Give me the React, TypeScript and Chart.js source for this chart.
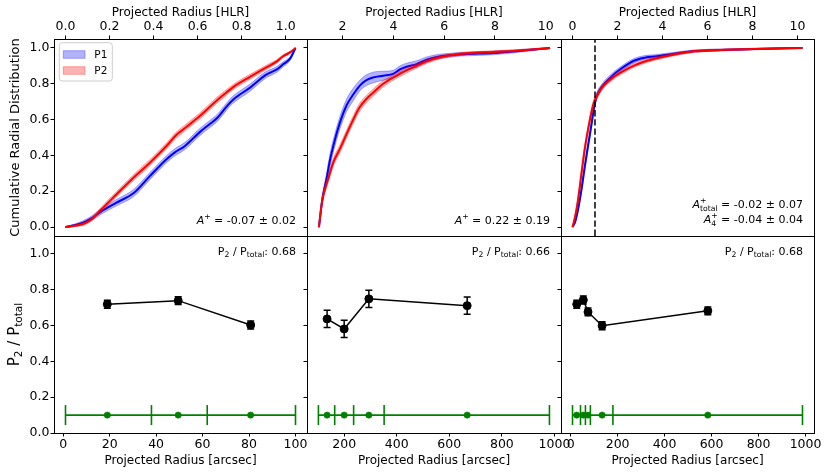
import React, { useEffect, useRef } from 'react';
import { Chart, registerables } from 'chart.js';

Chart.register(...registerables);

const FONT = "'DejaVu Sans', 'Liberation Sans', sans-serif";

// ---------------- tick labels ----------------
const fracTicks = [0, 0.2, 0.4, 0.6, 0.8, 1.0];
const hlrTicksA = [0, 0.2, 0.4, 0.6, 0.8, 1.0];
const hlrTicksB = [2, 4, 6, 8, 10];
const hlrTicksC = [0, 2, 4, 6, 8, 10];
const arcTicksA = [0, 20, 40, 60, 80, 100];
const arcTicksB = [200, 400, 600, 800, 1000];
const arcTicksC = [0, 200, 400, 600, 800, 1000];

// ---------------- top-left: cumulative distributions ----------------
const tlX = [0.0, 0.04, 0.08, 0.12, 0.16, 0.23, 0.31, 0.38, 0.46, 0.5, 0.54, 0.61, 0.65, 0.69, 0.73, 0.76, 0.84, 0.91, 0.96, 0.99, 1.02, 1.045];
const tlP1 = [0.0, 0.01, 0.025, 0.05, 0.085, 0.135, 0.19, 0.28, 0.38, 0.42, 0.45, 0.53, 0.57, 0.61, 0.67, 0.71, 0.78, 0.85, 0.88, 0.91, 0.94, 1.0];
const tlP1Err = [0.003, 0.006, 0.01, 0.013, 0.015, 0.018, 0.02, 0.02, 0.02, 0.02, 0.02, 0.02, 0.02, 0.02, 0.02, 0.02, 0.02, 0.018, 0.016, 0.014, 0.01, 0.003];
const tlP2 = [0.0, 0.007, 0.017, 0.045, 0.095, 0.18, 0.277, 0.355, 0.454, 0.51, 0.55, 0.62, 0.665, 0.71, 0.75, 0.78, 0.84, 0.89, 0.925, 0.955, 0.975, 1.0];
const tlP2Err = [0.003, 0.005, 0.008, 0.01, 0.013, 0.015, 0.017, 0.017, 0.017, 0.017, 0.017, 0.017, 0.017, 0.017, 0.016, 0.015, 0.014, 0.012, 0.01, 0.008, 0.006, 0.003];

// ---------------- top-middle ----------------
const tmX = [1.07, 1.2, 1.37, 1.5, 1.63, 1.89, 2.16, 2.42, 2.68, 2.94, 3.2, 3.6, 3.99, 4.26, 4.52, 4.91, 5.31, 5.83, 6.4, 6.88, 7.93, 8.85, 10.17];
const tmP1 = [0.0, 0.15, 0.27, 0.37, 0.45, 0.58, 0.68, 0.74, 0.79, 0.82, 0.835, 0.845, 0.855, 0.88, 0.895, 0.91, 0.935, 0.953, 0.962, 0.966, 0.972, 0.982, 1.0];
const tmP1Err = [0.005, 0.02, 0.03, 0.035, 0.035, 0.035, 0.035, 0.035, 0.03, 0.03, 0.03, 0.025, 0.02, 0.02, 0.02, 0.018, 0.015, 0.012, 0.01, 0.01, 0.01, 0.008, 0.003];
const tmP2 = [0.0, 0.15, 0.24, 0.3, 0.36, 0.435, 0.52, 0.6, 0.67, 0.715, 0.75, 0.8, 0.835, 0.855, 0.875, 0.9, 0.925, 0.948, 0.962, 0.97, 0.978, 0.985, 1.0];
const tmP2Err = [0.005, 0.02, 0.02, 0.022, 0.022, 0.022, 0.022, 0.022, 0.022, 0.02, 0.02, 0.018, 0.016, 0.015, 0.015, 0.013, 0.012, 0.01, 0.008, 0.007, 0.006, 0.005, 0.003];

// ---------------- top-right ----------------
const trX = [0.0, 0.12, 0.25, 0.4, 0.55, 0.7, 0.84, 0.95, 1.06, 1.29, 1.73, 2.17, 2.76, 3.36, 3.65, 4.53, 5.42, 6.6, 8.08, 10.22];
const trP1 = [0.0, 0.03, 0.1, 0.21, 0.34, 0.46, 0.57, 0.66, 0.725, 0.78, 0.84, 0.885, 0.93, 0.95, 0.952, 0.968, 0.983, 0.989, 0.994, 1.0];
const trP1Err = [0.003, 0.01, 0.015, 0.02, 0.02, 0.02, 0.02, 0.02, 0.018, 0.016, 0.015, 0.013, 0.012, 0.01, 0.01, 0.008, 0.006, 0.005, 0.004, 0.002];
const trP2 = [0.0, 0.06, 0.155, 0.3, 0.44, 0.55, 0.64, 0.695, 0.725, 0.775, 0.828, 0.865, 0.903, 0.93, 0.94, 0.964, 0.981, 0.989, 0.994, 1.0];
const trP2Err = [0.003, 0.012, 0.02, 0.025, 0.025, 0.022, 0.02, 0.018, 0.016, 0.015, 0.013, 0.012, 0.01, 0.01, 0.009, 0.008, 0.006, 0.005, 0.004, 0.002];
const hlrBoundary = 1.0;

// ---------------- bottom: P2 / Ptotal ----------------
const binLevel = 0.1;
const blX = [19, 49.5, 80.7];
const blY = [0.719, 0.739, 0.603];
const blErr = [0.022, 0.022, 0.022];
const blEdges = [1, 38, 62, 100];

const bmX = [135, 200, 294, 668];
const bmY = [0.637, 0.581, 0.749, 0.711];
const bmErr = [0.048, 0.048, 0.048, 0.048];
const bmEdges = [102, 164, 236, 352, 981];

const brX = [26, 54, 74, 134, 584];
const brY = [0.719, 0.743, 0.676, 0.599, 0.682];
const brErr = [0.022, 0.022, 0.022, 0.022, 0.022];
const brEdges = [8, 42, 63, 84, 180, 987];

// ---------------- layout ----------------
const CW = 831;
const CH = 476;
const COLS: [number, number][] = [[54, 307], [307, 561], [561, 814]];
const ROWS: [number, number][] = [[39, 236], [236, 433]];
const BLACK = '#000000';
const BLUE_BAND = 'rgba(0,0,255,0.3)';
const RED_BAND = 'rgba(255,0,0,0.3)';
const GREEN = '#008000';

type Seg = { t: string; it?: boolean; pos?: 'sup' | 'sub'; under?: string };

function fontStr(size: number, it?: boolean) {
  return `${it ? 'italic ' : ''}${size}px ${FONT}`;
}

function drawRich(ctx: CanvasRenderingContext2D, segs: Seg[], x: number, y: number, size: number, align: 'left' | 'right' | 'center') {
  const small = size * 0.7;
  const widths = segs.map((sg) => {
    if (sg.pos) {
      ctx.font = fontStr(small, sg.it);
      let w = ctx.measureText(sg.t).width;
      if (sg.under) {
        ctx.font = fontStr(small);
        w = Math.max(w, ctx.measureText(sg.under).width);
      }
      return w;
    }
    ctx.font = fontStr(size, sg.it);
    return ctx.measureText(sg.t).width;
  });
  const total = widths.reduce((a, b) => a + b, 0);
  let cx = align === 'right' ? x - total : align === 'center' ? x - total / 2 : x;
  ctx.textAlign = 'left';
  ctx.textBaseline = 'alphabetic';
  ctx.fillStyle = BLACK;
  segs.forEach((sg, i) => {
    if (sg.pos) {
      ctx.font = fontStr(small, sg.it);
      const dy = sg.pos === 'sup' ? -size * 0.42 : size * 0.22;
      ctx.fillText(sg.t, cx, y + dy);
      if (sg.under) {
        ctx.font = fontStr(small);
        ctx.fillText(sg.under, cx, y + size * 0.3);
      }
    } else {
      ctx.font = fontStr(size, sg.it);
      ctx.fillText(sg.t, cx, y);
    }
    cx += widths[i];
  });
}

type TextSpec = { segs: Seg[]; fromRight: number; fromTop?: number; fromBottom?: number; size: number };
type PanelDecor = {
  texts: TextSpec[];
  err?: { x: number[]; y: number[]; e: number[] };
  legend?: boolean;
  ratioLabel?: boolean;
};

function decorPlugin(d: PanelDecor) {
  return {
    id: 'panelDecor',
    afterDraw(chart: any) {
      const ctx: CanvasRenderingContext2D = chart.ctx;
      const a = chart.chartArea;
      const xs = chart.scales.x;
      const ys = chart.scales.y;
      ctx.save();
      if (d.err) {
        ctx.strokeStyle = BLACK;
        ctx.lineWidth = 1.5;
        d.err.x.forEach((xv, i) => {
          const px = xs.getPixelForValue(xv);
          const y1 = ys.getPixelForValue(d.err!.y[i] - d.err!.e[i]);
          const y2 = ys.getPixelForValue(d.err!.y[i] + d.err!.e[i]);
          ctx.beginPath();
          ctx.moveTo(px, y1);
          ctx.lineTo(px, y2);
          ctx.moveTo(px - 3.5, y1);
          ctx.lineTo(px + 3.5, y1);
          ctx.moveTo(px - 3.5, y2);
          ctx.lineTo(px + 3.5, y2);
          ctx.stroke();
        });
      }
      // frame
      ctx.strokeStyle = BLACK;
      ctx.lineWidth = 1;
      ctx.strokeRect(Math.round(a.left) + 0.5, Math.round(a.top) + 0.5, Math.round(a.right - a.left), Math.round(a.bottom - a.top));
      // annotations
      d.texts.forEach((t) => {
        const y = t.fromTop !== undefined ? a.top + t.fromTop : a.bottom - (t.fromBottom || 0);
        drawRich(ctx, t.segs, a.right - t.fromRight, y, t.size, 'right');
      });
      if (d.legend) {
        const lx = a.left + 5.3;
        const ly = a.top + 3.7;
        const w = 53;
        const h = 38.3;
        const r = 3;
        ctx.beginPath();
        ctx.moveTo(lx + r, ly);
        ctx.arcTo(lx + w, ly, lx + w, ly + h, r);
        ctx.arcTo(lx + w, ly + h, lx, ly + h, r);
        ctx.arcTo(lx, ly + h, lx, ly, r);
        ctx.arcTo(lx, ly, lx + w, ly, r);
        ctx.closePath();
        ctx.fillStyle = 'rgba(255,255,255,0.8)';
        ctx.fill();
        ctx.strokeStyle = '#cccccc';
        ctx.lineWidth = 1;
        ctx.stroke();
        const items = [
          { label: 'P1', color: BLUE_BAND },
          { label: 'P2', color: RED_BAND },
        ];
        items.forEach((it, i) => {
          const py = a.top + 11.7 + i * 16;
          ctx.fillStyle = it.color;
          ctx.fillRect(a.left + 9.3, py, 21.7, 7.6);
          ctx.strokeStyle = it.color;
          ctx.lineWidth = 1;
          ctx.strokeRect(a.left + 9.3, py, 21.7, 7.6);
          ctx.fillStyle = BLACK;
          ctx.font = fontStr(10.5);
          ctx.textAlign = 'left';
          ctx.textBaseline = 'alphabetic';
          ctx.fillText(it.label, a.left + 40.3, py + 7.6);
        });
      }
      if (d.ratioLabel) {
        ctx.translate(18.5, (ROWS[1][0] + ROWS[1][1]) / 2);
        ctx.rotate(-Math.PI / 2);
        drawRich(ctx, [{ t: 'P' }, { t: '2', pos: 'sub' }, { t: ' / P' }, { t: 'total', pos: 'sub' }], 0, 0, 15, 'center');
      }
      ctx.restore();
    },
  };
}

const tickFont = { family: FONT, size: 12.5 };
const titleFont = { family: FONT, size: 12 };
const yTitleFont = { family: FONT, size: 13 };
const gridOpts = { display: true, drawOnChartArea: false, drawTicks: true, tickLength: 3.5, color: BLACK, lineWidth: 1 };
const borderOpts = { display: true, color: BLACK, width: 1 };

function setTicks(values: number[]) {
  return (scale: any) => {
    scale.ticks = values.map((v) => ({ value: v }));
  };
}

type PanelSpec = {
  row: number;
  col: number;
  xMin: number;
  xMax: number;
  xTicks: number[];
  xFmt: (v: number) => string;
  yMin: number;
  yMax: number;
  datasets: any[];
  decor: PanelDecor;
};

function makeConfig(p: PanelSpec): any {
  const isTop = p.row === 0;
  const [l, r] = COLS[p.col];
  const [t, b] = ROWS[p.row];
  const yWidth = p.col === 0 ? l : 10;
  return {
    type: 'line',
    data: { datasets: p.datasets },
    options: {
      responsive: false,
      animation: false,
      devicePixelRatio: 1,
      events: [],
      layout: {
        autoPadding: false,
        padding: {
          left: l - yWidth,
          right: CW - r,
          top: isTop ? 0 : t,
          bottom: isTop ? CH - b : 0,
        },
      },
      plugins: { legend: { display: false }, tooltip: { enabled: false } },
      scales: {
        x: {
          type: 'linear',
          position: isTop ? 'top' : 'bottom',
          min: p.xMin,
          max: p.xMax,
          afterBuildTicks: setTicks(p.xTicks),
          afterFit: (s: any) => {
            s.height = isTop ? t : CH - b;
          },
          ticks: {
            callback: (v: number) => p.xFmt(v),
            font: tickFont,
            color: BLACK,
            padding: isTop ? 1.3 : 1.0,
            maxRotation: 0,
            minRotation: 0,
            autoSkip: false,
          },
          grid: gridOpts,
          border: borderOpts,
          title: {
            display: true,
            text: isTop ? 'Projected Radius [HLR]' : 'Projected Radius [arcsec]',
            font: titleFont,
            color: BLACK,
            padding: isTop ? { top: 5.5, bottom: 0 } : { top: 0, bottom: 8.1 },
          },
        },
        y: {
          type: 'linear',
          position: 'left',
          min: p.yMin,
          max: p.yMax,
          afterBuildTicks: setTicks(fracTicks),
          afterFit: (s: any) => {
            s.width = yWidth;
          },
          ticks: {
            display: p.col === 0,
            callback: (v: number) => v.toFixed(1),
            font: tickFont,
            color: BLACK,
            padding: 1,
          },
          grid: gridOpts,
          border: borderOpts,
          title: {
            display: p.col === 0 && isTop,
            text: 'Cumulative Radial Distribution',
            font: yTitleFont,
            color: BLACK,
            padding: { top: 7.8, bottom: 0 },
          },
        },
      },
    },
    plugins: [decorPlugin(p.decor)],
  };
}

function pts(xs: number[], ys: number[], sign = 0, es?: number[]) {
  return xs.map((x, i) => ({ x, y: ys[i] + (es ? sign * es[i] : 0) }));
}

function cdfDatasets(xs: number[], p1: number[], p1e: number[], p2: number[], p2e: number[]) {
  const common = { pointRadius: 0, cubicInterpolationMode: 'monotone' };
  return [
    { ...common, label: 'P1 upper', data: pts(xs, p1, 1, p1e), borderColor: BLUE_BAND, borderWidth: 1, fill: false, order: 5 },
    { ...common, label: 'P1', data: pts(xs, p1, -1, p1e), borderColor: BLUE_BAND, borderWidth: 1, backgroundColor: BLUE_BAND, fill: '-1', order: 4 },
    { ...common, label: 'P1 median', data: pts(xs, p1), borderColor: '#0000ff', borderWidth: 2, fill: false, order: 3 },
    { ...common, label: 'P2 upper', data: pts(xs, p2, 1, p2e), borderColor: RED_BAND, borderWidth: 1, fill: false, order: 2 },
    { ...common, label: 'P2', data: pts(xs, p2, -1, p2e), borderColor: RED_BAND, borderWidth: 1, backgroundColor: RED_BAND, fill: '-1', order: 1 },
    { ...common, label: 'P2 median', data: pts(xs, p2), borderColor: '#ff0000', borderWidth: 2, fill: false, order: 0 },
  ];
}

function ratioDatasets(xs: number[], ys: number[], edges: number[]) {
  return [
    {
      label: 'P2 / Ptotal',
      data: pts(xs, ys),
      borderColor: BLACK,
      borderWidth: 1.5,
      pointRadius: 4,
      pointBorderWidth: 1,
      pointBackgroundColor: BLACK,
      pointBorderColor: BLACK,
      fill: false,
      order: 0,
    },
    {
      label: 'bins',
      data: edges.map((e) => ({ x: e, y: binLevel })),
      borderColor: GREEN,
      borderWidth: 1.6,
      pointStyle: 'line',
      pointRadius: 10,
      pointRotation: 90,
      pointBorderColor: GREEN,
      pointBorderWidth: 1.6,
      fill: false,
      order: 2,
    },
    {
      label: 'bin centres',
      data: xs.map((x) => ({ x, y: binLevel })),
      showLine: false,
      pointRadius: 3.2,
      pointBorderWidth: 0.5,
      pointBackgroundColor: GREEN,
      pointBorderColor: GREEN,
      order: 1,
    },
  ];
}

const fmt1 = (v: number) => v.toFixed(1);
const fmt0 = (v: number) => String(Math.round(v));

const ratioText = (val: string): TextSpec => ({
  segs: [{ t: 'P' }, { t: '2', pos: 'sub' }, { t: ' / P' }, { t: 'total', pos: 'sub' }, { t: ': ' + val }],
  fromRight: 11,
  fromTop: 19,
  size: 11,
});

const panels: PanelSpec[] = [
  {
    row: 0, col: 0, xMin: -0.052, xMax: 1.097, xTicks: hlrTicksA, xFmt: fmt1, yMin: -0.05, yMax: 1.05,
    datasets: cdfDatasets(tlX, tlP1, tlP1Err, tlP2, tlP2Err),
    decor: {
      legend: true,
      texts: [{ segs: [{ t: 'A', it: true }, { t: '+', pos: 'sup' }, { t: ' = -0.07 ± 0.02' }], fromRight: 11, fromBottom: 12, size: 11 }],
    },
  },
  {
    row: 0, col: 1, xMin: 0.6, xMax: 10.6, xTicks: hlrTicksB, xFmt: fmt0, yMin: -0.05, yMax: 1.05,
    datasets: cdfDatasets(tmX, tmP1, tmP1Err, tmP2, tmP2Err),
    decor: {
      texts: [{ segs: [{ t: 'A', it: true }, { t: '+', pos: 'sup' }, { t: ' = 0.22 ± 0.19' }], fromRight: 11, fromBottom: 12, size: 11 }],
    },
  },
  {
    row: 0, col: 2, xMin: -0.51, xMax: 10.73, xTicks: hlrTicksC, xFmt: fmt0, yMin: -0.05, yMax: 1.05,
    datasets: [
      ...cdfDatasets(trX, trP1, trP1Err, trP2, trP2Err),
      {
        label: 'boundary',
        data: [{ x: hlrBoundary, y: -0.05 }, { x: hlrBoundary, y: 1.05 }],
        borderColor: BLACK,
        borderWidth: 1.5,
        borderDash: [6.4, 2.8],
        pointRadius: 0,
        fill: false,
        order: -1,
      },
    ],
    decor: {
      texts: [
        { segs: [{ t: 'A', it: true }, { t: '+', pos: 'sup', under: 'total' }, { t: ' = -0.02 ± 0.07' }], fromRight: 11, fromBottom: 28.5, size: 11 },
        { segs: [{ t: 'A', it: true }, { t: '+', pos: 'sup', under: '4' }, { t: ' = -0.04 ± 0.04' }], fromRight: 11, fromBottom: 13.3, size: 11 },
      ],
    },
  },
  {
    row: 1, col: 0, xMin: -3.95, xMax: 104.95, xTicks: arcTicksA, xFmt: fmt0, yMin: 0, yMax: 1.1,
    datasets: ratioDatasets(blX, blY, blEdges),
    decor: { texts: [ratioText('0.68')], err: { x: blX, y: blY, e: blErr }, ratioLabel: true },
  },
  {
    row: 1, col: 1, xMin: 58.6, xMax: 1025, xTicks: arcTicksB, xFmt: fmt0, yMin: 0, yMax: 1.1,
    datasets: ratioDatasets(bmX, bmY, bmEdges),
    decor: { texts: [ratioText('0.66')], err: { x: bmX, y: bmY, e: bmErr } },
  },
  {
    row: 1, col: 2, xMin: -41, xMax: 1036, xTicks: arcTicksC, xFmt: fmt0, yMin: 0, yMax: 1.1,
    datasets: ratioDatasets(brX, brY, brEdges),
    decor: { texts: [ratioText('0.68')], err: { x: brX, y: brY, e: brErr } },
  },
];

export default function App() {
  const refs = [
    useRef<HTMLCanvasElement>(null),
    useRef<HTMLCanvasElement>(null),
    useRef<HTMLCanvasElement>(null),
    useRef<HTMLCanvasElement>(null),
    useRef<HTMLCanvasElement>(null),
    useRef<HTMLCanvasElement>(null),
  ];
  useEffect(() => {
    const charts = panels.map((p, i) => new Chart(refs[i].current as HTMLCanvasElement, makeConfig(p)));
    return () => charts.forEach((c) => c.destroy());
  }, []);
  return (
    <div style={{ position: 'absolute', left: 0, top: 0, width: CW, height: CH, background: '#ffffff' }}>
      {refs.map((r, i) => (
        <canvas key={i} ref={r} width={CW} height={CH} style={{ position: 'absolute', left: 0, top: 0 }} />
      ))}
    </div>
  );
}
